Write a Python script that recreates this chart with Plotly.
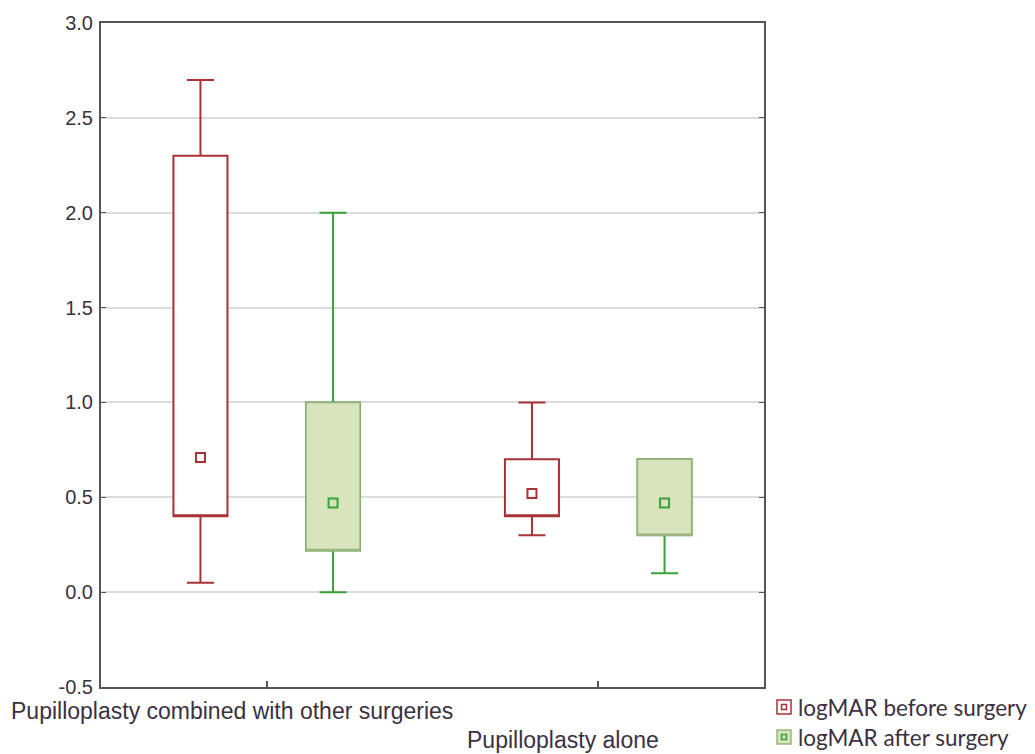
import plotly.graph_objects as go

# ---- data ----
groups = ["Pupilloplasty combined with other surgeries", "Pupilloplasty alone"]
series_names = ["logMAR before surgery", "logMAR after surgery"]

before_min = [0.05, 0.30]
before_q1 = [0.40, 0.40]
before_median = [0.71, 0.52]
before_q3 = [2.30, 0.70]
before_max = [2.70, 1.00]

after_min = [0.00, 0.10]
after_q1 = [0.22, 0.30]
after_median = [0.47, 0.47]
after_q3 = [1.00, 0.70]
after_max = [2.00, 0.70]

y_ticks = [-0.5, 0.0, 0.5, 1.0, 1.5, 2.0, 2.5, 3.0]

# ---- styling ----
W, H = 1035, 754
BODY = 8  # page body margin offset
PL, PR, PT, PB = 101, 764, 23, 687  # plot area in page pixels
ML, MT = PL - BODY, PT - BODY
MR = W - (PR - BODY)
MB = H - (PB - BODY)
RED = "#A83236"
GREEN = "#3AA23A"
GFILL = "#D7E4BD"
GEDGE = "#9DB27C"
TXT = "#3b3140"
OFFSET = 0.2
BOXW = 0.163

cat_pos = list(range(len(groups)))
x_before = [p - OFFSET for p in cat_pos]
x_after = [p + OFFSET for p in cat_pos]

fig = go.Figure()

fig.add_trace(go.Box(
    x=x_before, q1=before_q1, median=before_q1, q3=before_q3,
    lowerfence=before_min, upperfence=before_max,
    width=BOXW, whiskerwidth=0.5, boxpoints=False,
    line=dict(color=RED, width=2), fillcolor="white",
    name=series_names[0], showlegend=False, hoverinfo="skip"))

fig.add_trace(go.Box(
    x=x_after, q1=after_q1, median=after_q1, q3=after_q3,
    lowerfence=after_min, upperfence=after_max,
    width=BOXW, whiskerwidth=0.5, boxpoints=False,
    line=dict(color=GREEN, width=2), fillcolor=GFILL,
    name=series_names[1], showlegend=False, hoverinfo="skip"))
fig.add_trace(go.Box(
    x=x_after, q1=after_q1, median=after_q1, q3=after_q3,
    lowerfence=after_q1, upperfence=after_q3,
    width=BOXW, whiskerwidth=0, boxpoints=False,
    line=dict(color=GEDGE, width=1.5), fillcolor=GFILL,
    name=series_names[1], showlegend=False, hoverinfo="skip"))

fig.add_trace(go.Scatter(
    x=x_before, y=before_median, mode="markers",
    marker=dict(symbol="square", size=9, color="white", line=dict(color=RED, width=2)),
    showlegend=False, hoverinfo="skip"))
fig.add_trace(go.Scatter(
    x=x_after, y=after_median, mode="markers",
    marker=dict(symbol="square", size=9, color=GFILL, line=dict(color=GREEN, width=2)),
    showlegend=False, hoverinfo="skip"))

pw = PR - PL
ph = PB - PT


def px2paper_x(px):
    return (px - PL) / pw


def px2paper_y(py):
    return (PB - py) / ph


shapes = []
annotations = []
legend_items = [
    (series_names[0], 707, "white", RED, RED),
    (series_names[1], 737, GFILL, GEDGE, GREEN),
]
for name, cy, fill, edge, inner in legend_items:
    shapes.append(dict(type="rect", xref="paper", yref="paper",
                       x0=px2paper_x(777), x1=px2paper_x(791),
                       y0=px2paper_y(cy - 7), y1=px2paper_y(cy + 7),
                       fillcolor=fill, line=dict(color=edge, width=1.5)))
    shapes.append(dict(type="rect", xref="paper", yref="paper",
                       x0=px2paper_x(781.5), x1=px2paper_x(786.5),
                       y0=px2paper_y(cy - 2.5), y1=px2paper_y(cy + 2.5),
                       fillcolor=fill, line=dict(color=inner, width=1.5)))
    annotations.append(dict(text=name, xref="paper", yref="paper",
                            x=px2paper_x(796), y=px2paper_y(cy),
                            xanchor="left", yanchor="middle", showarrow=False,
                            font=dict(family="Lato, Open Sans, sans-serif", size=22.5, color=TXT)))

label_rows = [711, 740]
for i, g in enumerate(groups):
    annotations.append(dict(text=g, xref="x", yref="paper",
                            x=cat_pos[i], y=px2paper_y(label_rows[i]),
                            xshift=-35, xanchor="center", yanchor="middle", showarrow=False,
                            font=dict(family="Liberation Sans, Arial, sans-serif", size=23, color=TXT)))

fig.update_layout(
    width=W, height=H,
    margin=dict(l=ML, r=MR, t=MT, b=MB, pad=0),
    paper_bgcolor="white", plot_bgcolor="white",
    shapes=shapes, annotations=annotations,
    showlegend=False,
)
fig.update_xaxes(
    range=[-0.5, 1.5], tickvals=cat_pos, ticktext=["", ""],
    showgrid=False, zeroline=False, automargin=False,
    showline=True, linecolor="#555555", linewidth=2, mirror=True,
    ticks="inside", ticklen=6, tickcolor="#555555", tickwidth=1.5,
)
fig.update_yaxes(
    range=[-0.5, 3.0], tickvals=y_ticks, ticktext=[f"{v:.1f}" for v in y_ticks],
    showgrid=True, gridcolor="#DCDCDC", gridwidth=1.5, zeroline=False, automargin=False,
    showline=True, linecolor="#555555", linewidth=2, mirror="ticks",
    ticks="inside", ticklen=5, tickcolor="#555555", tickwidth=1,
    ticklabelstandoff=2,
    tickfont=dict(family="Liberation Sans, Arial, sans-serif", size=20, color=TXT),
)

fig.write_html("out.html")
